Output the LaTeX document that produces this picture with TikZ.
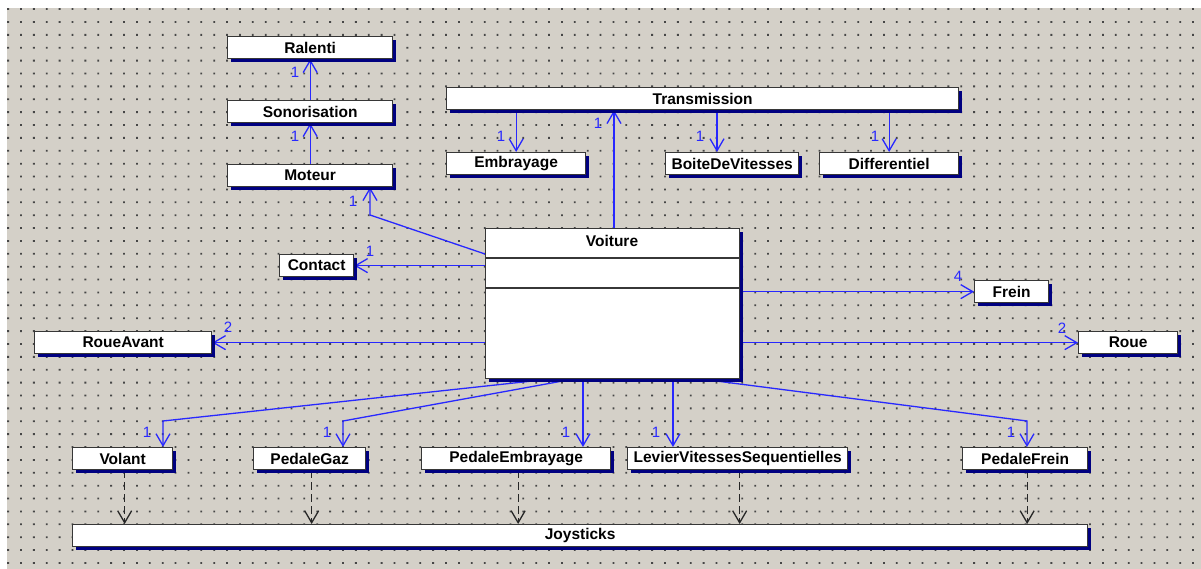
\documentclass[tikz,border=0pt]{standalone}
\usepackage{fontspec}
\setmainfont{Liberation Sans}
\usetikzlibrary{arrows.meta,positioning,calc,backgrounds,shadows}

\definecolor{canvasgrey}{RGB}{212,208,200}
\definecolor{griddot}{RGB}{70,70,70}
\definecolor{assocblue}{RGB}{40,40,255}
\definecolor{shadownavy}{RGB}{0,0,128}
\definecolor{boxedge}{RGB}{55,55,55}

\begin{document}
\begin{tikzpicture}[
  x=1pt, y=-1pt,
  klass/.style={draw=boxedge, line width=1.3pt, fill=white, anchor=north west, inner sep=0pt,
    minimum height=22pt, font=\bfseries\fontsize{15.5}{18}\selectfont,
    drop shadow={shadow xshift=3pt, shadow yshift=-3pt, fill=shadownavy, opacity=1}},
  assoc/.style={draw=assocblue, line width=1.3pt, -{Straight Barb[length=12pt, width=14pt]}},
  realize/.style={draw=black!85, line width=1.3pt, dash pattern=on 8pt off 4pt,
    -{Straight Barb[length=12pt, width=14pt]}},
  mult/.style={text=assocblue, font=\fontsize{15}{17}\selectfont, inner sep=0pt}
]
\useasboundingbox (0,0) rectangle (1201,569);

% classes
\node[klass, minimum width=165pt] (ralenti) at (227,36) {Ralenti};
\node[klass, minimum width=165pt] (sono) at (227,100) {Sonorisation};
\node[klass, minimum width=165pt] (moteur) at (227,164) {Moteur};
\node[klass, minimum width=512pt] (transmission) at (446,87) {Transmission};
\node[klass, minimum width=139pt] (embrayage) at (446,152) {Embrayage};
\node[klass, minimum width=133pt] (boite) at (665,152) {BoiteDeVitesses};
\node[klass, minimum width=139pt] (differentiel) at (819,152) {Differentiel};
\node[klass, minimum width=74pt] (contact) at (279,254) {Contact};
\node[klass, minimum width=254pt, minimum height=150pt] (voiture) at (485,228) {};
\node[font=\bfseries\fontsize{15.5}{18}\selectfont] (voiturename) at (612,241) {Voiture};
\draw[boxedge, line width=1.3pt] ($(voiture.north west)+(0,30)$) -- ($(voiture.north east)+(0,30)$);
\draw[boxedge, line width=1.3pt] ($(voiture.north west)+(0,60)$) -- ($(voiture.north east)+(0,60)$);
\node[klass, minimum width=74pt] (frein) at (974,280) {Frein};
\node[klass, minimum width=177pt] (roueavant) at (34,331) {RoueAvant};
\node[klass, minimum width=99pt] (roue) at (1078,331) {Roue};
\node[klass, minimum width=100pt] (volant) at (72,447) {Volant};
\node[klass, minimum width=112pt] (pedalegaz) at (253,447) {PedaleGaz};
\node[klass, minimum width=189pt] (pedaleemb) at (421,447) {PedaleEmbrayage};
\node[klass, minimum width=220pt] (levier) at (627,447) {LevierVitessesSequentielles};
\node[klass, minimum width=125pt] (pedalefrein) at (962,447) {PedaleFrein};
\node[klass, minimum width=1015pt] (joysticks) at (72,524) {Joysticks};

% multiplicities
\node[mult] (mralenti) at (295,72) {1};
\node[mult] (msono) at (295,136) {1};
\node[mult] (mmoteur) at (353,201) {1};
\node[mult] (mcontact) at (370,251) {1};
\node[mult] (mtrans) at (598,123) {1};
\node[mult] (memb) at (501,136) {1};
\node[mult] (mboite) at (700,136) {1};
\node[mult] (mdiff) at (875,136) {1};
\node[mult] (mfrein) at (958,276) {4};
\node[mult] (mroueav) at (228,327) {2};
\node[mult] (mroue) at (1062,328) {2};
\node[mult] (mvolant) at (147,432) {1};
\node[mult] (mgaz) at (327,432) {1};
\node[mult] (mpemb) at (566,432) {1};
\node[mult] (mlevier) at (656,432) {1};
\node[mult] (mpfrein) at (1011,432) {1};

\coordinate (bendmot) at (370,215);
\coordinate (bendvol) at (163,421);
\coordinate (bendgaz) at (343,421);
\coordinate (bendfrein) at (1027,421);

\begin{scope}[on background layer]
  \fill[white] (0,0) rectangle (1201,569);
  \fill[canvasgrey] (7,8) rectangle (1201,569);
  \fill[griddot] foreach \i in {0,...,92} { foreach \j in {0,...,43} {
    ({7.2+\i*12.88},{8.2+\j*12.88}) rectangle ++(1.8,1.8) } };
  % associations
  \draw[assoc] (sono.north) -- (ralenti.south);
  \draw[assoc] (moteur.north) -- (sono.south);
  \draw[assoc] ($(voiture.north west)+(0,26)$) -- (bendmot) -- (bendmot |- moteur.south);
  \draw[assoc] (voiture.west |- contact.east) -- (contact.east);
  \draw[assoc] (voiture.north -| 614,0) -- (transmission.south -| 614,0);
  \draw[assoc] (transmission.south -| embrayage.north) -- (embrayage.north);
  \draw[assoc] (transmission.south -| 717,0) -- (boite.north -| 717,0);
  \draw[assoc] (transmission.south -| differentiel.north) -- (differentiel.north);
  \draw[assoc] (voiture.east |- frein.west) -- (frein.west);
  \draw[assoc] (voiture.west |- roueavant.east) -- (roueavant.east);
  \draw[assoc] (voiture.east |- roue.west) -- (roue.west);
  \draw[assoc] (voiture.south -| 548,0) -- (bendvol) -- (bendvol |- volant.north);
  \draw[assoc] (voiture.south -| 572,0) -- (bendgaz) -- (bendgaz |- pedalegaz.north);
  \draw[assoc] (voiture.south -| 583,0) -- (pedaleemb.north -| 583,0);
  \draw[assoc] (voiture.south -| 673,0) -- (levier.north -| 673,0);
  \draw[assoc] (voiture.south -| 703,0) -- (bendfrein) -- (bendfrein |- pedalefrein.north);
  % realisations
  \foreach \n in {volant,pedalegaz,pedaleemb,levier,pedalefrein}
    \draw[realize] ([xshift=2pt]\n.south) -- ([xshift=2pt]\n.south |- joysticks.north);
\end{scope}
\end{tikzpicture}
\end{document}
